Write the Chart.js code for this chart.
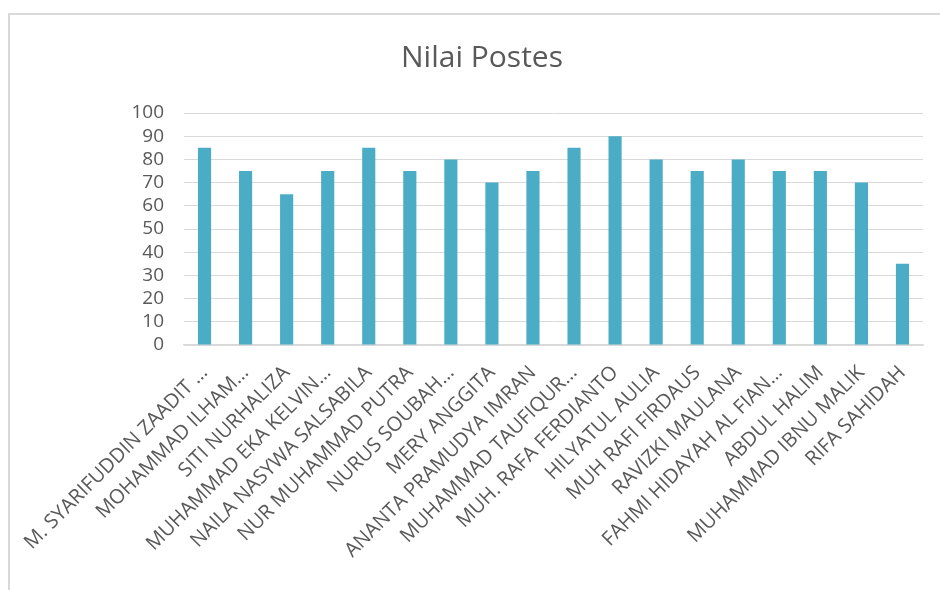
<!DOCTYPE html>
<html>
<head>
<meta charset="utf-8">
<script src="https://cdn.jsdelivr.net/npm/chart.js@4/dist/chart.umd.min.js"></script>
<style>
  html, body { margin: 0; padding: 0; background: #fff; overflow: hidden; }
  #wrap { position: absolute; left: 8px; top: 13px; width: 960px; height: 600px; border: 2px solid #d9d9d9; box-sizing: border-box; }
  #chart { position: absolute; left: 0; top: 0; }
</style>
</head>
<body>
<div id="wrap"><canvas id="chart" width="944" height="575"></canvas></div>
<script>
const names = [
  'M. SYARIFUDDIN ZAADIT …', 'MOHAMMAD ILHAM…', 'SITI NURHALIZA', 'MUHAMMAD EKA KELVIN…',
  'NAILA NASYWA SALSABILA', 'NUR MUHAMMAD PUTRA', 'NURUS SOUBAH…', 'MERY ANGGITA',
  'ANANTA PRAMUDYA IMRAN', 'MUHAMMAD TAUFIQUR…', 'MUH. RAFA FERDIANTO', 'HILYATUL AULIA',
  'MUH RAFI FIRDAUS', 'RAVIZKI MAULANA', 'FAHMI HIDAYAH AL FIAN…', 'ABDUL HALIM',
  'MUHAMMAD IBNU MALIK', 'RIFA SAHIDAH'
];
const scores = [85, 75, 65, 75, 85, 75, 80, 70, 75, 85, 90, 80, 75, 80, 75, 75, 70, 35];
const yTicks = [0, 10, 20, 30, 40, 50, 60, 70, 80, 90, 100];

const textColor = '#595959';
const gridColor = '#d9d9d9';
const font = '"Open Sans", "Liberation Sans", sans-serif';

new Chart(document.getElementById('chart'), {
  type: 'bar',
  data: {
    labels: names,
    datasets: [{
      label: 'Nilai Postes',
      data: scores,
      backgroundColor: '#4BACC6',
      borderWidth: 0,
      categoryPercentage: 1,
      barPercentage: 0.32
    }]
  },
  options: {
    responsive: false,
    animation: false,
    layout: { padding: { left: 31, right: 31, top: 0, bottom: 0 } },
    plugins: {
      legend: { display: false },
      tooltip: { enabled: false },
      title: {
        display: true,
        text: 'Nilai Postes',
        color: textColor,
        font: { family: font, size: 30, weight: 'normal' },
        padding: { top: 25, bottom: 37 }
      }
    },
    scales: {
      y: {
        min: 0,
        max: 100,
        afterBuildTicks: (axis) => { axis.ticks = yTicks.map(v => ({ value: v })); },
        afterFit: (axis) => { axis.width = 143; },
        grid: { color: gridColor, lineWidth: 1, drawTicks: false },
        border: { display: false },
        ticks: { color: textColor, padding: 20, autoSkip: false, font: { family: font, size: 19, lineHeight: 1 } }
      },
      x: {
        afterFit: (axis) => { axis.height = 245; axis.paddingLeft = 0; axis.paddingRight = 0; },
        grid: { display: false },
        border: { color: gridColor, width: 1.5 },
        ticks: {
          color: textColor,
          autoSkip: false,
          minRotation: 45,
          maxRotation: 45,
          padding: 8,
          font: { family: font, size: 20 }
        }
      }
    }
  }
});
</script>
</body>
</html>
